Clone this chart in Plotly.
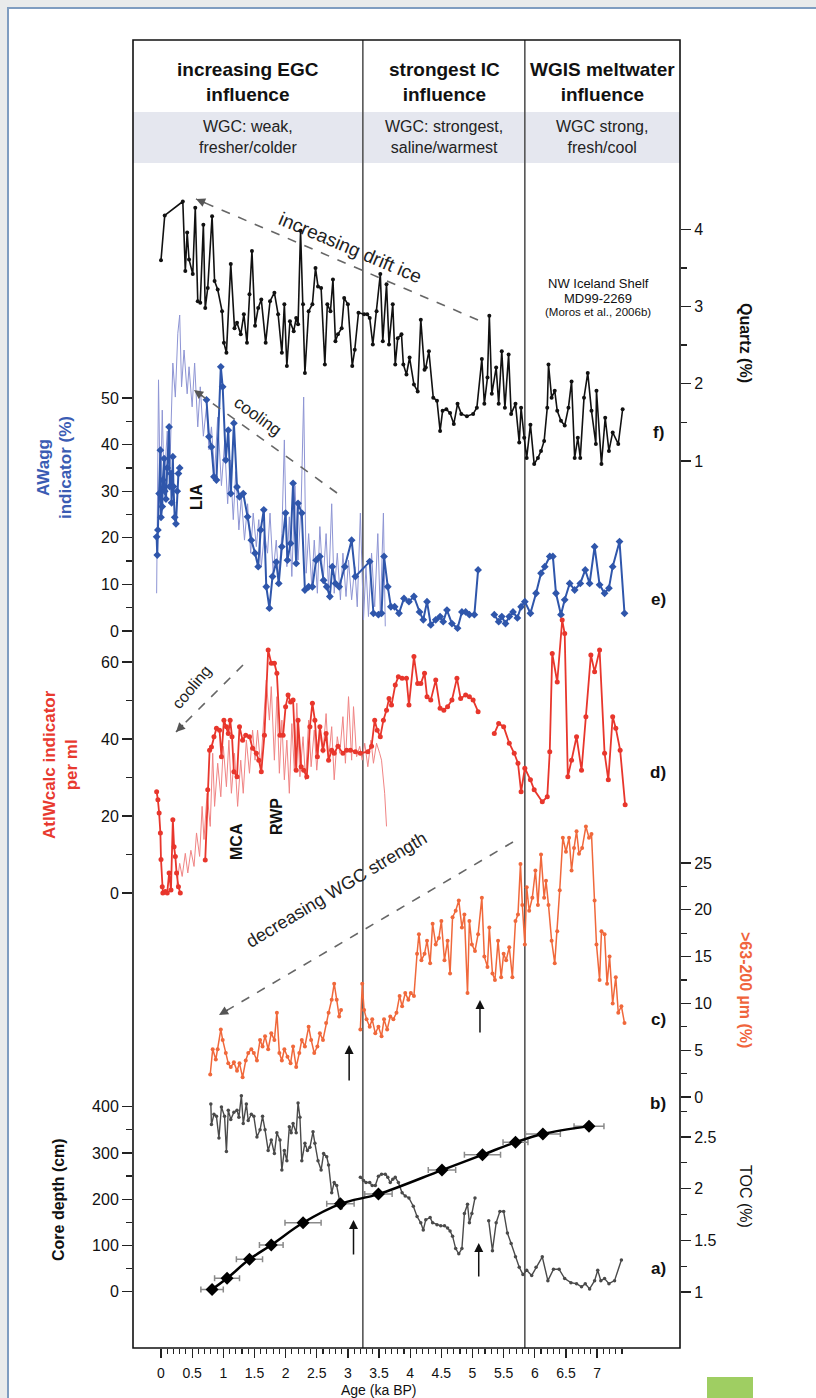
import plotly.graph_objects as go

# ---------------- data ----------------
# f) Quartz (%)
quartz_age = [0.00, 0.06, 0.35, 0.39, 0.42, 0.45, 0.51, 0.55, 0.59, 0.63, 0.68, 0.71, 0.75, 0.82, 0.86, 0.91,
              0.98, 1.01, 1.05, 1.12, 1.18, 1.22, 1.28, 1.33, 1.38, 1.42, 1.46, 1.51, 1.56, 1.61, 1.68, 1.75,
              1.82, 1.88, 1.94, 1.98, 2.02, 2.07, 2.13, 2.17, 2.20, 2.24, 2.28, 2.31, 2.37, 2.43, 2.48, 2.52,
              2.57, 2.63, 2.67, 2.72, 2.76, 2.80, 2.84, 2.90, 2.94, 3.00, 3.07, 3.11, 3.17, 3.26, 3.31, 3.35,
              3.40, 3.46, 3.52, 3.56, 3.62, 3.66, 3.72, 3.76, 3.80, 3.86, 3.89, 3.94, 3.99, 4.06, 4.12, 4.17,
              4.23, 4.25, 4.30, 4.37, 4.43, 4.48, 4.52, 4.58, 4.64, 4.70, 4.76, 4.82, 4.91, 5.01, 5.07, 5.15,
              5.19, 5.24, 5.27, 5.31, 5.38, 5.42, 5.47, 5.52, 5.58, 5.62, 5.69, 5.75, 5.78, 5.83, 5.87, 5.93,
              5.99, 6.05, 6.10, 6.15, 6.20, 6.22, 6.27, 6.32, 6.36, 6.42, 6.48, 6.54, 6.59, 6.64, 6.69, 6.73,
              6.79, 6.85, 6.91, 6.98, 6.99, 7.07, 7.13, 7.19, 7.25, 7.34, 7.41]
quartz_pct = [3.60, 4.18, 4.36, 3.46, 3.96, 3.61, 3.42, 4.28, 3.07, 3.05, 4.06, 2.98, 3.24, 4.17, 3.33, 3.22,
              2.94, 2.53, 2.40, 3.55, 2.72, 2.79, 2.64, 2.90, 2.53, 3.16, 3.72, 2.75, 2.98, 3.09, 2.53, 3.07,
              3.18, 2.90, 2.40, 3.03, 2.23, 2.81, 2.68, 2.85, 2.77, 3.98, 3.03, 2.14, 2.94, 3.03, 3.50, 3.26,
              3.24, 2.25, 3.03, 2.94, 3.35, 2.55, 2.64, 2.72, 3.11, 3.03, 2.23, 2.44, 2.92, 2.90, 2.90, 2.85,
              2.51, 2.94, 3.42, 2.55, 3.29, 2.51, 3.03, 2.25, 2.59, 2.64, 2.25, 2.12, 2.34, 1.99, 1.90, 2.83,
              2.18, 2.21, 2.42, 1.82, 1.78, 1.39, 1.65, 1.67, 1.62, 1.48, 1.74, 1.61, 1.58, 1.61, 1.69, 2.32,
              1.74, 2.08, 2.88, 1.87, 2.21, 1.74, 2.42, 1.69, 2.38, 1.61, 1.74, 1.24, 1.69, 1.30, 1.04, 1.47,
              0.96, 1.04, 1.13, 1.26, 1.69, 2.25, 1.82, 1.91, 1.65, 1.52, 1.46, 1.69, 2.03, 1.04, 1.30, 1.04,
              1.82, 2.14, 1.65, 1.22, 1.91, 0.96, 1.56, 1.13, 1.37, 1.22, 1.67]

# e) AWagg indicator (%) - sample series (None = gap)
awagg_age = [-0.07, -0.06, -0.05, -0.03, -0.01, 0.00, 0.02, 0.03, 0.05, 0.06, 0.08, 0.10, 0.13, 0.14, 0.16,
             0.17, 0.19, 0.20, 0.22, 0.24, 0.26, 0.28, 0.30, None,
             0.73, 0.77, 0.81, 0.85, 0.89, 0.96, 0.99, 1.04, 1.08, 1.12, 1.17, 1.22, 1.26, 1.32, 1.39, 1.45,
             1.51, 1.56, 1.60, 1.65, 1.69, 1.74, 1.79, 1.85, 1.89, 1.94, 2.00, 2.03, 2.08, 2.12, 2.17, 2.20,
             2.26, 2.31, 2.37, 2.43, 2.49, 2.55, 2.61, 2.66, 2.71, 2.75, 2.80, 2.86, 2.95, 3.06, 3.12, 3.35,
             3.41, 3.49, 3.54, 3.58, 3.64, 3.69, 3.75, 3.82, 3.90, 3.98, 4.06, 4.15, 4.21, 4.27, 4.33, 4.41,
             4.48, 4.53, 4.59, 4.67, 4.76, 4.83, 4.89, 4.95, 5.03, 5.09, None,
             5.35, 5.42, 5.47, 5.53, 5.59, 5.65, 5.72, 5.78, 5.84, 5.93, 6.02, 6.10, 6.16, 6.24, 6.29, 6.34,
             6.42, 6.48, 6.56, 6.64, 6.73, 6.81, 6.88, 6.96, 7.04, 7.12, 7.19, 7.25, 7.36, 7.44]
awagg_pct = [20.2, 16.3, 21.7, 29.5, 38.8, 24.4, 26.7, 32.4, 37.0, 30.0, 28.3, 35.0, 43.8, 31.0, 33.8,
             27.5, 37.4, 31.0, 24.4, 23.0, 30.0, 33.8, 35.0, None,
             49.6, 41.7, 39.5, 33.1, 32.4, 56.7, 52.4, 36.7, 43.1, 29.5, 44.6, 30.9, 28.8, 29.5, 24.5, 19.5,
             16.7, 13.8, 21.7, 26.0, 9.5, 4.9, 11.7, 14.8, 10.2, 18.1, 25.3, 15.2, 18.8, 31.7, 14.5, 27.4,
             25.3, 8.8, 9.5, 9.5, 15.2, 16.0, 10.9, 9.5, 7.4, 13.8, 10.2, 9.5, 13.8, 19.5, 11.7, 14.9,
             3.8, 3.5, 3.8, 16.0, 9.5, 5.2, 5.2, 3.8, 7.0, 6.3, 7.4, 4.1, 2.4, 6.3, 1.3, 2.4,
             3.1, 2.0, 4.5, 1.6, 0.6, 4.1, 4.1, 3.5, 3.5, 13.1, None,
             3.5, 2.0, 3.1, 1.6, 3.1, 4.1, 2.8, 5.2, 6.3, 3.8, 8.1, 12.4, 13.8, 16.0, 16.0, 8.1,
             3.5, 6.7, 10.2, 8.8, 10.2, 13.1, 10.2, 18.1, 9.9, 8.1, 9.2, 13.8, 19.2, 3.8]
# e) AWagg high-resolution record (thin line)
awagg_hr_age = [-0.07, -0.04, -0.01, 0.02, 0.05, 0.10, 0.14, 0.19, 0.23, 0.27, 0.30, 0.33, 0.37, 0.42, 0.45,
                0.50, 0.54, 0.59, 0.63, 0.68, 0.73, 0.77, 0.81, 0.86, 0.91, 0.97, 1.02, 1.07, 1.11, 1.16,
                1.20, 1.25, 1.29, 1.34, 1.39, 1.44, 1.48, 1.53, 1.57, 1.61, 1.66, 1.71, 1.75, 1.80, 1.85,
                1.89, 1.94, 1.98, 2.02, 2.06, 2.10, 2.15, 2.20, 2.25, 2.29, 2.33, 2.37, 2.42, 2.46, 2.51,
                2.55, 2.60, 2.65, 2.69, 2.74, 2.78, 2.83, 2.88, 2.92, 2.97, 3.01, 3.06, 3.11, 3.15, 3.20,
                3.25, 3.29, 3.33, 3.38, 3.43, 3.48, 3.52, 3.57, 3.60]
awagg_hr_pct = [8.1, 53.9, 27.5, 47.4, 31.2, 42.9, 33.8, 57.5, 50.2, 63.9, 67.8, 52.4, 60.3, 50.9, 56.7,
                48.1, 57.5, 43.8, 52.4, 41.8, 48.1, 38.9, 43.8, 33.8, 45.9, 31.2, 40.3, 27.3, 36.7, 23.9,
                34.2, 21.7, 28.8, 19.5, 27.3, 16.7, 25.3, 18.1, 23.9, 13.8, 20.9, 16.7, 25.3, 12.4, 19.5,
                11.0, 20.9, 41.0, 13.8, 24.5, 11.7, 31.2, 15.2, 27.3, 50.2, 12.4, 20.9, 9.5, 19.5, 8.1,
                22.4, 10.2, 20.9, 8.8, 27.3, 8.1, 16.7, 6.7, 16.7, 7.4, 15.2, 6.7, 13.8, 5.2, 25.3,
                2.4, 13.8, 3.1, 16.7, 5.2, 20.9, 3.8, 25.3, 1.0]

# d) AtlWcalc indicator per ml - sample series
atlw_age = [-0.07, -0.05, -0.03, -0.01, 0.00, 0.02, 0.03, 0.07, 0.10, 0.13, 0.16, 0.19, 0.21, 0.23, 0.25,
            0.28, 0.31, None,
            0.71, 0.75, 0.78, 0.81, 0.85, 0.89, 0.94, 0.97, 1.01, 1.05, 1.08, 1.11, 1.14, 1.17, 1.22, 1.26,
            1.31, 1.36, 1.42, 1.47, 1.53, 1.57, 1.61, 1.66, 1.72, 1.77, 1.82, 1.86, 1.91, 1.96, 2.00, 2.04,
            2.08, 2.12, 2.17, 2.20, 2.25, 2.29, 2.34, 2.39, 2.43, 2.47, 2.51, 2.55, 2.60, 2.65, 2.69, 2.74,
            2.78, 2.84, 2.92, 2.98, 3.04, 3.12, 3.20, 3.32, 3.38, 3.43, 3.47, 3.52, 3.57, 3.62, 3.66, 3.70,
            3.76, 3.81, 3.87, 3.94, 3.98, 4.06, 4.12, 4.17, 4.23, 4.27, 4.33, 4.41, 4.48, 4.54, 4.60, 4.67,
            4.75, 4.81, 4.89, 4.95, 5.01, 5.09, None,
            5.35, 5.42, 5.50, 5.59, 5.67, 5.73, 5.78, 5.84, 5.93, 5.99, 6.12, 6.20, 6.24, 6.28, 6.36, 6.44,
            6.48, 6.53, 6.59, 6.67, 6.75, 6.82, 6.90, 6.96, 7.04, 7.12, 7.18, 7.25, 7.30, 7.37, 7.45]
atlw_val = [26.3, 24.2, 20.8, 15.6, 8.7, 1.6, 0.0, 0.4, 0.0, 5.2, 0.8, 19.0, 12.0, 9.5, 5.2,
            1.6, 0.0, None,
            8.6, 26.8, 37.1, 37.9, 40.6, 42.8, 42.3, 35.4, 44.9, 43.2, 41.4, 44.9, 40.6, 31.5, 30.2, 43.2,
            39.7, 41.0, 40.6, 37.6, 36.3, 34.5, 31.5, 41.0, 63.1, 59.7, 59.7, 57.1, 41.0, 41.0, 48.4, 51.4,
            49.6, 50.1, 31.9, 44.9, 32.8, 31.9, 30.2, 43.2, 49.3, 44.9, 35.4, 43.2, 37.1, 41.4, 34.5, 37.1,
            36.3, 38.1, 36.3, 37.1, 37.1, 36.7, 36.3, 36.7, 38.1, 44.9, 42.3, 40.6, 44.9, 47.5, 50.5, 48.8,
            54.0, 56.2, 55.8, 55.8, 48.8, 61.4, 54.4, 54.4, 57.1, 51.0, 50.1, 55.3, 48.0, 47.5, 48.4, 50.1,
            55.8, 50.5, 51.4, 51.0, 50.1, 47.1, None,
            41.4, 44.0, 43.2, 38.9, 36.3, 33.7, 26.3, 32.4, 29.4, 26.8, 23.7, 25.0, 36.7, 62.2, 54.8, 70.9,
            67.4, 30.2, 34.5, 40.6, 31.9, 45.8, 61.8, 57.5, 63.1, 36.3, 29.4, 45.8, 42.8, 37.1, 22.9]
# d) AtlWcalc high-resolution record (thin line)
atlw_hr_age = [0.25, 0.30, 0.34, 0.39, 0.43, 0.48, 0.53, 0.57, 0.62, 0.66, 0.69, 0.74, 0.79, 0.83, 0.86,
               0.91, 0.96, 1.00, 1.05, 1.09, 1.13, 1.18, 1.23, 1.28, 1.32, 1.37, 1.42, 1.47, 1.51, 1.55,
               1.60, 1.65, 1.69, 1.74, 1.77, 1.82, 1.86, 1.90, 1.94, 1.98, 2.02, 2.06, 2.10, 2.14, 2.18,
               2.23, 2.28, 2.32, 2.37, 2.41, 2.46, 2.50, 2.55, 2.60, 2.65, 2.69, 2.74, 2.78, 2.83, 2.87,
               2.92, 2.96, 3.01, 3.06, 3.09, 3.14, 3.19, 3.23, 3.27, 3.32, 3.37, 3.41, 3.46, 3.51, 3.54,
               3.59, 3.62]
atlw_hr_val = [1.6, 7.7, 4.3, 10.3, 5.2, 11.1, 6.9, 15.6, 9.5, 22.5, 13.9, 25.9, 17.3, 36.3, 22.5,
               33.7, 25.0, 38.1, 27.6, 39.7, 25.9, 36.3, 22.5, 34.5, 25.9, 39.7, 31.1, 42.3, 34.5, 42.3,
               32.8, 44.9, 55.3, 44.9, 53.6, 34.5, 51.0, 31.1, 44.9, 29.4, 39.7, 25.9, 44.0, 31.9, 49.3,
               30.2, 40.6, 29.4, 44.9, 32.8, 42.3, 31.9, 41.4, 36.3, 46.6, 34.5, 43.2, 29.4, 40.6, 36.3,
               45.8, 33.7, 51.0, 34.5, 48.4, 35.4, 38.1, 34.5, 38.9, 32.8, 39.7, 33.7, 38.9, 36.3, 34.5,
               25.9, 17.3]

# c) >63-200 um (%)
sand_age = [0.79, 0.83, 0.88, 0.91, 0.96, 0.99, 1.04, 1.08, 1.12, 1.17, 1.22, 1.26, 1.31, 1.36, 1.40, 1.45,
            1.49, 1.54, 1.59, 1.63, 1.67, 1.72, 1.77, 1.82, 1.86, 1.90, 1.94, 1.98, 2.03, 2.08, 2.12, 2.17,
            2.22, 2.26, 2.31, 2.37, 2.41, 2.46, 2.51, 2.55, 2.60, 2.65, 2.69, 2.74, 2.78, 2.82, 2.86, 2.89,
            None,
            3.20, 3.23, 3.26, 3.30, 3.35, 3.39, 3.44, 3.49, 3.54, 3.58, 3.63, 3.68, 3.73, 3.78, 3.83, 3.87,
            3.92, 3.97, 4.01, 4.06, 4.11, 4.14, 4.18, 4.23, 4.27, 4.32, 4.36, 4.41, 4.46, 4.50, 4.55, 4.60,
            4.64, 4.68, 4.73, 4.78, 4.83, 4.87, 4.92, 4.95, 4.99, 5.04, 5.09, 5.15, 5.19, 5.24, 5.27, 5.32,
            5.36, 5.41, 5.46, 5.50, 5.54, 5.59, 5.64, 5.69, 5.73, 5.77, 5.80, 5.84, 5.87, 5.91, 5.96, 6.01,
            6.05, 6.10, 6.15, 6.18, 6.22, 6.27, 6.32, 6.36, 6.40, 6.45, 6.50, 6.55, 6.59, 6.63, 6.67, 6.71,
            6.76, 6.82, 6.87, 6.91, 6.96, 6.99, 7.04, 7.07, 7.12, 7.16, 7.20, 7.25, 7.30, 7.34, 7.39, 7.44]
sand_pct = [2.4, 5.1, 4.0, 5.1, 7.2, 6.1, 4.7, 3.6, 3.2, 3.7, 2.8, 3.6, 2.1, 3.9, 4.7, 5.1,
            4.7, 3.9, 6.1, 5.4, 6.5, 5.1, 6.8, 6.1, 9.0, 4.7, 3.9, 5.1, 4.3, 3.6, 5.4, 3.2,
            4.7, 6.1, 5.4, 7.5, 6.1, 4.7, 5.4, 6.8, 6.1, 7.9, 9.0, 10.4, 12.1, 10.4, 8.6, 9.3,
            None,
            7.2, 12.1, 9.3, 8.3, 7.5, 8.3, 6.8, 7.5, 6.5, 8.3, 7.2, 8.6, 8.3, 9.0, 10.8, 9.7,
            11.1, 10.4, 11.1, 10.8, 15.3, 17.4, 14.6, 15.3, 16.7, 14.3, 18.5, 16.3, 17.0, 18.8, 14.6, 16.7,
            13.2, 19.2, 19.9, 21.0, 18.1, 19.5, 11.1, 18.8, 16.3, 15.6, 17.4, 21.3, 15.0, 13.9, 18.1, 13.2,
            12.5, 16.7, 12.8, 15.3, 14.6, 16.0, 12.8, 18.8, 19.5, 24.9, 20.5, 16.3, 22.4, 19.9, 21.3, 24.2,
            20.5, 25.9, 21.3, 23.1, 20.5, 16.7, 14.3, 17.7, 22.1, 27.7, 26.2, 27.7, 24.2, 26.6, 28.4, 26.0,
            26.6, 28.9, 27.7, 28.1, 21.0, 16.3, 12.5, 17.7, 17.4, 12.1, 15.0, 10.0, 12.8, 9.0, 9.7, 7.9]

# b) TOC (%)
toc_age = [0.80, 0.81, 0.85, 0.89, 0.93, 0.97, 1.02, 1.05, 1.08, 1.12, 1.17, 1.22, 1.25, 1.29, 1.32, 1.37,
           1.40, 1.45, 1.49, 1.54, 1.59, 1.63, 1.67, 1.72, 1.77, 1.82, 1.86, 1.91, 1.94, 1.98, 2.02, 2.06,
           2.09, 2.12, 2.17, 2.20, 2.23, 2.26, 2.31, 2.35, 2.39, 2.44, 2.47, 2.52, 2.57, 2.61, 2.66, 2.69,
           2.74, 2.78, 2.82, 2.86, 2.89, None,
           3.20, 3.25, 3.29, 3.35, 3.39, 3.44, 3.49, 3.54, 3.60, 3.64, 3.68, 3.72, 3.76, 3.81, 3.87, 3.92,
           3.98, 4.05, 4.11, 4.17, 4.21, 4.25, 4.32, 4.36, 4.43, 4.49, 4.55, 4.60, 4.64, 4.68, 4.73, 4.78,
           4.83, 4.87, 4.92, 4.95, 4.99, 5.04, None,
           5.26, 5.32, 5.38, 5.44, 5.50, 5.56, 5.62, 5.69, 5.75, 5.81, 5.87, 5.95, 6.02, 6.12, 6.21, 6.30,
           6.39, 6.48, 6.58, 6.67, 6.75, 6.81, 6.88, 6.96, 7.01, 7.06, 7.12, 7.19, 7.28, 7.39]
toc_pct = [2.82, 2.62, 2.72, 2.70, 2.49, 2.79, 2.70, 2.36, 2.76, 2.67, 2.74, 2.76, 2.69, 2.90, 2.63, 2.82,
           2.66, 2.72, 2.70, 2.50, 2.57, 2.70, 2.57, 2.37, 2.47, 2.34, 2.54, 2.47, 2.18, 2.37, 2.27, 2.60,
           2.54, 2.63, 2.54, 2.83, 2.69, 2.27, 2.44, 2.37, 2.40, 2.55, 2.44, 2.27, 2.18, 2.34, 2.31, 2.23,
           1.96, 2.06, 2.03, 1.89, 1.81, None,
           2.11, 2.08, 2.06, 2.06, 2.03, 2.03, 2.12, 2.14, 2.14, 2.11, 2.06, 2.09, 2.11, 2.06, 1.96, 1.93,
           1.91, 1.83, 1.73, 1.67, 1.60, 1.70, 1.72, 1.67, 1.65, 1.64, 1.64, 1.62, 1.59, 1.54, 1.42, 1.37,
           1.42, 1.76, 1.85, 1.67, 1.76, 1.91, None,
           1.69, 1.40, 1.67, 1.78, 1.78, 1.57, 1.47, 1.34, 1.24, 1.17, 1.21, 1.16, 1.24, 1.34, 1.11, 1.22,
           1.22, 1.13, 1.09, 1.08, 1.05, 1.08, 1.03, 1.11, 1.21, 1.11, 1.13, 1.08, 1.11, 1.31]

# a) age-depth model (dates with age uncertainty)
dates_age = [0.82, 1.06, 1.42, 1.77, 2.28, 2.88, 3.49, 4.51, 5.16, 5.69, 6.13, 6.87]
dates_depth = [5, 29, 70, 101, 149, 190, 211, 263, 296, 323, 341, 358]
dates_err = [0.18, 0.20, 0.21, 0.19, 0.29, 0.22, 0.22, 0.22, 0.29, 0.20, 0.28, 0.24]

# region boundaries (ka BP) and header texts
boundaries = [3.24, 5.84]
header_titles = ["increasing EGC<br>influence", "strongest IC<br>influence", "WGIS meltwater<br>influence"]
header_notes = ["WGC: weak,<br>fresher/colder", "WGC: strongest,<br>saline/warmest", "WGC strong,<br>fresh/cool"]
arrow_ages_c = [3.02, 5.12]
arrow_ages_ab = [3.09, 5.10]

# axis ticks
age_ticks = [0, 0.5, 1, 1.5, 2, 2.5, 3, 3.5, 4, 4.5, 5, 5.5, 6, 6.5, 7]
quartz_ticks = [1, 2, 3, 4]
awagg_ticks = [0, 10, 20, 30, 40, 50]
atlw_ticks = [0, 20, 40, 60]
sand_ticks = [0, 5, 10, 15, 20, 25]
toc_ticks = [1, 1.5, 2, 2.5]
depth_ticks = [0, 100, 200, 300, 400]

# ---------------- layout geometry ----------------
W, H = 816, 1398
L, R, T, B = 133, 680, 40, 1348
FONT = "Liberation Sans, Arial, sans-serif"


def xp(px):
    return (px - L) / (R - L)


def yp(py):
    return (B - py) / (B - T)


def yrange(v0, p0, v1, p1):
    s = (p0 - p1) / (v1 - v0)
    return [v0 - (B - p0) / s, v0 + (p0 - T) / s]


age0_px, age_scale = 161, 62.3
xrange_ = [(L - age0_px) / age_scale, (R - age0_px) / age_scale]

fig = go.Figure()

# f) quartz
fig.add_trace(go.Scatter(x=quartz_age, y=quartz_pct, yaxis="y", mode="lines+markers",
                         line=dict(color="#111111", width=1.6), marker=dict(size=4, color="#111111")))
# e) AWagg
fig.add_trace(go.Scatter(x=awagg_hr_age, y=awagg_hr_pct, yaxis="y2", mode="lines",
                         line=dict(color="#8e95d4", width=1)))
fig.add_trace(go.Scatter(x=awagg_age, y=awagg_pct, yaxis="y2", mode="lines+markers",
                         line=dict(color="#2f56ab", width=2), marker=dict(size=6, symbol="diamond", color="#2f56ab"),
                         connectgaps=False))
# d) AtlWcalc
fig.add_trace(go.Scatter(x=atlw_hr_age, y=atlw_hr_val, yaxis="y3", mode="lines",
                         line=dict(color="#f08484", width=1)))
fig.add_trace(go.Scatter(x=atlw_age, y=atlw_val, yaxis="y3", mode="lines+markers",
                         line=dict(color="#e8362c", width=1.8), marker=dict(size=5, color="#e8362c"),
                         connectgaps=False))
# c) >63-200 um
fig.add_trace(go.Scatter(x=sand_age, y=sand_pct, yaxis="y4", mode="lines+markers",
                         line=dict(color="#f0683b", width=1.5), marker=dict(size=4, color="#f0683b"),
                         connectgaps=False))
# b) TOC
fig.add_trace(go.Scatter(x=toc_age, y=toc_pct, yaxis="y5", mode="lines+markers",
                         line=dict(color="#4a4a4a", width=1.4), marker=dict(size=3.5, color="#4a4a4a"),
                         connectgaps=False))
# a) age-depth
fig.add_trace(go.Scatter(x=dates_age, y=dates_depth, yaxis="y6", mode="lines+markers",
                         line=dict(color="#000000", width=2.5, shape="spline"),
                         marker=dict(size=10, symbol="diamond", color="#000000"),
                         error_x=dict(type="data", array=dates_err, color="#8a8a8a", thickness=1.5, width=3)))

tick_font = dict(family=FONT, size=16, color="#111111")


def yax(rng, ticks, minor, side, overlay=True):
    d = dict(range=rng, domain=[0, 1], anchor="x", side=side, showgrid=False, zeroline=False,
             showline=False, ticks="outside", ticklen=10, tickwidth=1.3, tickcolor="#222222",
             tickmode="array", tickvals=ticks, ticktext=[("%g" % t) for t in ticks],
             tickfont=tick_font, automargin=False, fixedrange=True,
             minor=dict(tickmode="array", tickvals=minor, ticks="outside", ticklen=6,
                        tickwidth=1.3, tickcolor="#222222", showgrid=False))
    if overlay:
        d["overlaying"] = "y"
    return d


age_minor = [round(i * 0.1, 1) for i in range(0, 75) if i % 5 != 0]

fig.update_layout(
    width=W, height=H, margin=dict(l=L, r=W - R, t=T, b=H - B, pad=0),
    paper_bgcolor="#e9ebeb", plot_bgcolor="rgba(0,0,0,0)", showlegend=False, template="none",
    font=dict(family=FONT, color="#111111"),
    xaxis=dict(range=xrange_, domain=[0, 1], showgrid=False, zeroline=False, showline=False,
               ticks="outside", ticklen=9, tickwidth=1.3, tickcolor="#222222", tickmode="array",
               tickvals=age_ticks, ticktext=[("%g" % t) for t in age_ticks],
               tickfont=dict(family=FONT, size=14, color="#111111"), automargin=False,
               ticklabelstandoff=3, fixedrange=True,
               minor=dict(tickmode="array", tickvals=age_minor, ticks="outside", ticklen=5,
                          tickwidth=1.1, tickcolor="#222222", showgrid=False)),
    yaxis=yax(yrange(1, 461, 4, 229.3), quartz_ticks, [1.5, 2.5, 3.5], "right", overlay=False),
    yaxis2=yax(yrange(0, 631, 50, 398), awagg_ticks, [5, 15, 25, 35, 45], "left"),
    yaxis3=yax(yrange(0, 893, 60, 662), atlw_ticks, [10, 30, 50], "left"),
    yaxis4=yax(yrange(0, 1097, 25, 863), sand_ticks, [2.5, 7.5, 12.5, 17.5, 22.5], "right"),
    yaxis5=yax(yrange(1, 1292, 2.5, 1137), toc_ticks, [1.25, 1.75, 2.25, 2.75], "right"),
    yaxis6=yax(yrange(0, 1291.7, 400, 1106.7), depth_ticks, [50, 150, 250, 350], "left"),
)

# ---------------- shapes ----------------
shapes = [
    dict(type="rect", xref="paper", yref="paper", x0=xp(8), x1=xp(845), y0=yp(8), y1=yp(1440),
         fillcolor="#ffffff", line=dict(color="#7f9dc0", width=2), layer="below"),
    dict(type="rect", xref="paper", yref="paper", x0=xp(707), x1=xp(753), y0=yp(1377), y1=yp(1400),
         fillcolor="#9fce62", line=dict(width=0), layer="below"),
    dict(type="rect", xref="paper", yref="paper", x0=0, x1=1, y0=yp(163), y1=yp(112),
         fillcolor="#e5e7ef", line=dict(width=0), layer="below"),
]
for b in boundaries:
    shapes.append(dict(type="line", xref="x", yref="paper", x0=b, x1=b, y0=0, y1=1,
                       line=dict(color="#555555", width=1.6), layer="below"))
shapes.append(dict(type="rect", xref="paper", yref="paper", x0=0, x1=1, y0=0, y1=1,
                   line=dict(color="#111111", width=1.6), fillcolor="rgba(0,0,0,0)", layer="above"))

# dashed trend arrows: (tail px, head px)
dashed = [((478, 320), (196, 199)), ((337, 493), (194, 390)), ((243, 665), (176, 732)), ((513, 842), (219, 1015))]
ann = []
for (tx, ty), (hx, hy) in dashed:
    shapes.append(dict(type="line", xref="paper", yref="paper", x0=xp(tx), y0=yp(ty), x1=xp(hx), y1=yp(hy),
                       line=dict(color="#666666", width=1.6, dash="dash"), layer="above"))
    dx, dy = tx - hx, ty - hy
    n = (dx * dx + dy * dy) ** 0.5
    ann.append(dict(x=xp(hx), y=yp(hy), xref="paper", yref="paper", ax=dx / n * 12, ay=dy / n * 12,
                    showarrow=True, arrowhead=2, arrowsize=1.3, arrowwidth=1.4, arrowcolor="#555555", text=""))
fig.update_layout(shapes=shapes)


def txt(px, py, text, size=15, color="#111111", angle=0, bold=False):
    ann.append(dict(x=xp(px), y=yp(py), xref="paper", yref="paper",
                    text=("<b>%s</b>" % text) if bold else text, showarrow=False, textangle=angle,
                    font=dict(size=size, color=color, family=FONT), xanchor="center", yanchor="middle"))


# header
for cx, t1, t2 in zip([248, 444, 602], header_titles, header_notes):
    txt(cx, 82, t1, size=19, bold=True)
    txt(cx, 137, t2, size=16, color="#222222")

# up arrows
for a, (top, bot) in zip(arrow_ages_c, [(1045, 1082), (1000, 1034)]):
    ann.append(dict(x=a, xref="x", y=yp(top), yref="paper", ax=0, ay=bot - top, showarrow=True,
                    arrowhead=2, arrowsize=1.2, arrowwidth=1.5, arrowcolor="#111111", text=""))
for a, (top, bot) in zip(arrow_ages_ab, [(1220, 1256), (1243, 1278)]):
    ann.append(dict(x=a, xref="x", y=yp(top), yref="paper", ax=0, ay=bot - top, showarrow=True,
                    arrowhead=2, arrowsize=1.2, arrowwidth=1.5, arrowcolor="#111111", text=""))

# in-plot labels
txt(350, 247, "increasing drift ice", size=19, color="#222222", angle=23)
txt(258, 416, "cooling", size=17, color="#222222", angle=36)
txt(191, 687, "cooling", size=16, color="#222222", angle=-50)
txt(336, 890, "decreasing WGC strength", size=18, color="#222222", angle=-31)
txt(196, 497, "LIA", size=16, angle=-90, bold=True)
txt(236, 842, "MCA", size=16, angle=-90, bold=True)
txt(276, 817, "RWP", size=16, angle=-90, bold=True)
txt(598, 283, "NW Iceland Shelf", size=13)
txt(598, 298, "MD99-2269", size=13)
txt(598, 312, "(Moros et al., 2006b)", size=11.5)
for lab, y in [("f)", 432), ("e)", 599), ("d)", 772), ("c)", 1019), ("b)", 1103), ("a)", 1268)]:
    txt(658, y, lab, size=17, bold=True)

# axis titles
txt(746, 343, "Quartz (%)", size=16, angle=90, bold=True)
txt(54, 468, "AWagg<br>indicator (%)", size=17, color="#3a5cb3", angle=-90, bold=True)
txt(60, 765, "AtlWcalc indicator<br>per ml", size=17, color="#e8392f", angle=-90, bold=True)
txt(58, 1200, "Core depth (cm)", size=16, angle=-90, bold=True)
txt(746, 990, ">63-200 µm (%)", size=16, color="#f0643c", angle=90, bold=True)
txt(746, 1196, "TOC (%)", size=16, angle=90)
txt(378, 1390, "Age (ka BP)", size=14)

fig.update_layout(annotations=ann)
fig.write_html("out.html", config={"displayModeBar": False, "staticPlot": True},
               post_script="document.body.style.margin='0px';document.body.style.overflow='hidden';")
